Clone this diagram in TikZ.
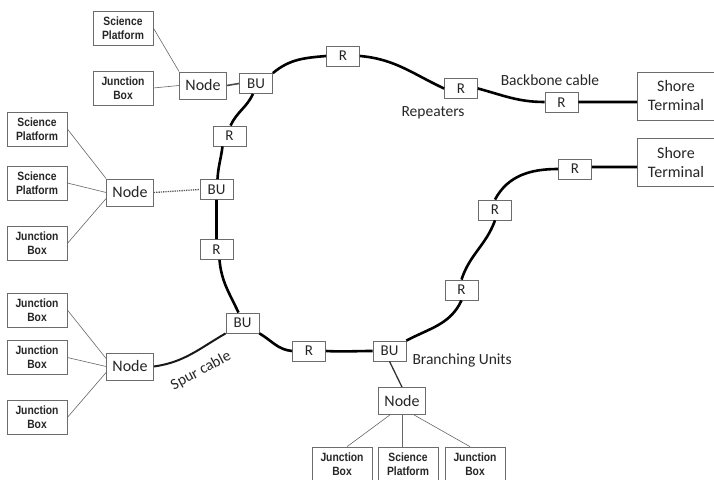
\documentclass[tikz,border=0pt]{standalone}
\usepackage{fontspec}
\setmainfont{Carlito}
\newfontfamily\narrowfont[FakeStretch=0.86]{Liberation Sans}
\begin{document}
\begin{tikzpicture}[x=1pt,y=1pt,
  txt/.style={text=black!85},
  smallbox/.style={txt,draw=gray!85!black, line width=0.7pt, fill=white, minimum width=60pt, minimum height=34pt, inner sep=0pt, align=center, font=\narrowfont\bfseries\fontsize{12}{14}\selectfont},
  nodebox/.style={txt,draw=gray!85!black, line width=0.8pt, fill=white, minimum width=47pt, minimum height=27pt, inner sep=0pt, font=\fontsize{16}{19}\selectfont},
  rbox/.style={txt,draw=gray!85!black, line width=0.8pt, fill=white, minimum width=33pt, minimum height=20pt, inner sep=0pt, font=\fontsize{15}{18}\selectfont},
  shore/.style={txt,draw=gray!85!black, line width=0.8pt, fill=white, minimum width=77pt, minimum height=48pt, inner sep=0pt, align=center, font=\fontsize{16}{19}\selectfont},
  lbl/.style={txt, font=\fontsize{15.5}{18}\selectfont},
  thin/.style={draw=gray!80!black, line width=0.6pt},
  cable/.style={draw=black, line width=2.6pt},
  spur/.style={draw=black!90, line width=2pt}
]
\useasboundingbox (0,0) rectangle (714,479);

% ring nodes
\node[rbox] (bu1) at (256,395.5) {BU};
\node[rbox] (rA) at (343,423) {R};
\node[rbox] (rB) at (461,390.5) {R};
\node[rbox] (rC) at (561.5,376.5) {R};
\node[shore] (st1) at (676,383) {Shore\\Terminal};
\node[shore] (st2) at (676,316.5) {Shore\\Terminal};
\node[rbox] (rD) at (575,310) {R};
\node[rbox] (rE) at (495,269) {R};
\node[rbox] (rF) at (461.5,189) {R};
\node[rbox] (bu3) at (389.5,128) {BU};
\node[rbox] (rG) at (309,128) {R};
\node[rbox] (bu2) at (242.5,156) {BU};
\node[rbox] (rH) at (216.5,229.5) {R};
\node[rbox] (bum) at (216.5,289.5) {BU};
\node[rbox] (rI) at (229.5,343) {R};

% science nodes
\node[nodebox] (n1) at (203,393.5) {Node};
\node[nodebox] (n2) at (130,286.5) {Node};
\node[nodebox] (n3) at (130,112.5) {Node};
\node[nodebox] (n4) at (402,78) {Node};

\node[smallbox] (sp1) at (123,451) {Science\\Platform};
\node[smallbox] (jb1) at (123,391) {Junction\\Box};
\node[smallbox] (sp2) at (37,350) {Science\\Platform};
\node[smallbox] (sp3) at (37,296) {Science\\Platform};
\node[smallbox] (jb2) at (37,235.5) {Junction\\Box};
\node[smallbox] (jb3) at (37,169) {Junction\\Box};
\node[smallbox] (jb4) at (37,121.5) {Junction\\Box};
\node[smallbox] (jb5) at (37,61.5) {Junction\\Box};
\node[smallbox] (jb6) at (342,15) {Junction\\Box};
\node[smallbox] (sp4) at (408,15) {Science\\Platform};
\node[smallbox] (jb7) at (475,15) {Junction\\Box};

% backbone cable
\path[cable]
  (rC.east |- 0,377) -- (st1.west |- 0,377)
  (rB.east) to[out=-15,in=180] (rC.west |- 0,377)
  (rA.east) to[out=-5,in=155] (rB.west)
  (rA.west) to[out=185,in=40] (bu1.north east)
  ([xshift=-3pt]bu1.south) to[out=-115,in=65] ([xshift=1pt]rI.north)
  ([xshift=-7pt]rI.south) to[out=-97,in=87] ([xshift=1pt]bum.north)
  (bum.south) -- (rH.north)
  ([xshift=3pt]rH.south) to[out=-85,in=115] ([xshift=-4pt]bu2.north)
  (bu2.south east) to[out=-30,in=175] (rG.west)
  (rG.east) to[out=-3,in=180] (bu3.west)
  (bu3.north east) to[out=28,in=245] (rF.south)
  (rF.north) to[out=72,in=250] (rE.south)
  (rE.north) to[out=62,in=180] (rD.west)
  (rD.east |- 0,312) -- (st2.west |- 0,312);

% spur cable
\draw[spur] (n3.east) to[out=8,in=210] (bu2.south west);
\node[lbl, rotate=28] (spurlbl) at (201,108) {Spur cable};

% branch links
\draw[draw=black!70, line width=1.6pt] (n1.east) -- (bu1.west);
\draw[draw=gray!70!black, line width=1.3pt, densely dotted] (n2.east) -- (bum.west);
\draw[draw=black!80, line width=1.3pt] (bu3.south) -- (n4.north);

% thin connectors
\draw[thin] (sp1.east) -- (n1.north west);
\draw[thin] (jb1.east) -- (n1.west);
\draw[thin] (sp2.east) -- (n2.north west);
\draw[thin] (sp3.east) -- (n2.west);
\draw[thin] (jb2.east) -- ([yshift=-6pt]n2.west);
\draw[thin] (jb3.east) -- ([yshift=8pt]n3.west);
\draw[thin] (jb4.east) -- (n3.west);
\draw[thin] (jb5.east) -- ([yshift=-6pt]n3.west);
\draw[thin] ([xshift=-12pt]n4.south) -- ([xshift=5pt]jb6.north);
\draw[thin] (n4.south) -- (n4.south |- sp4.north);
\draw[thin] ([xshift=12pt]n4.south) -- ([xshift=-5pt]jb7.north);

% labels
\node[lbl] (bblbl) at (550,399) {Backbone cable};
\node[lbl] (replbl) at (433,366) {Repeaters};
\node[lbl, anchor=west] (brlbl) at (409,119) {Branching Units};
\end{tikzpicture}
\end{document}
